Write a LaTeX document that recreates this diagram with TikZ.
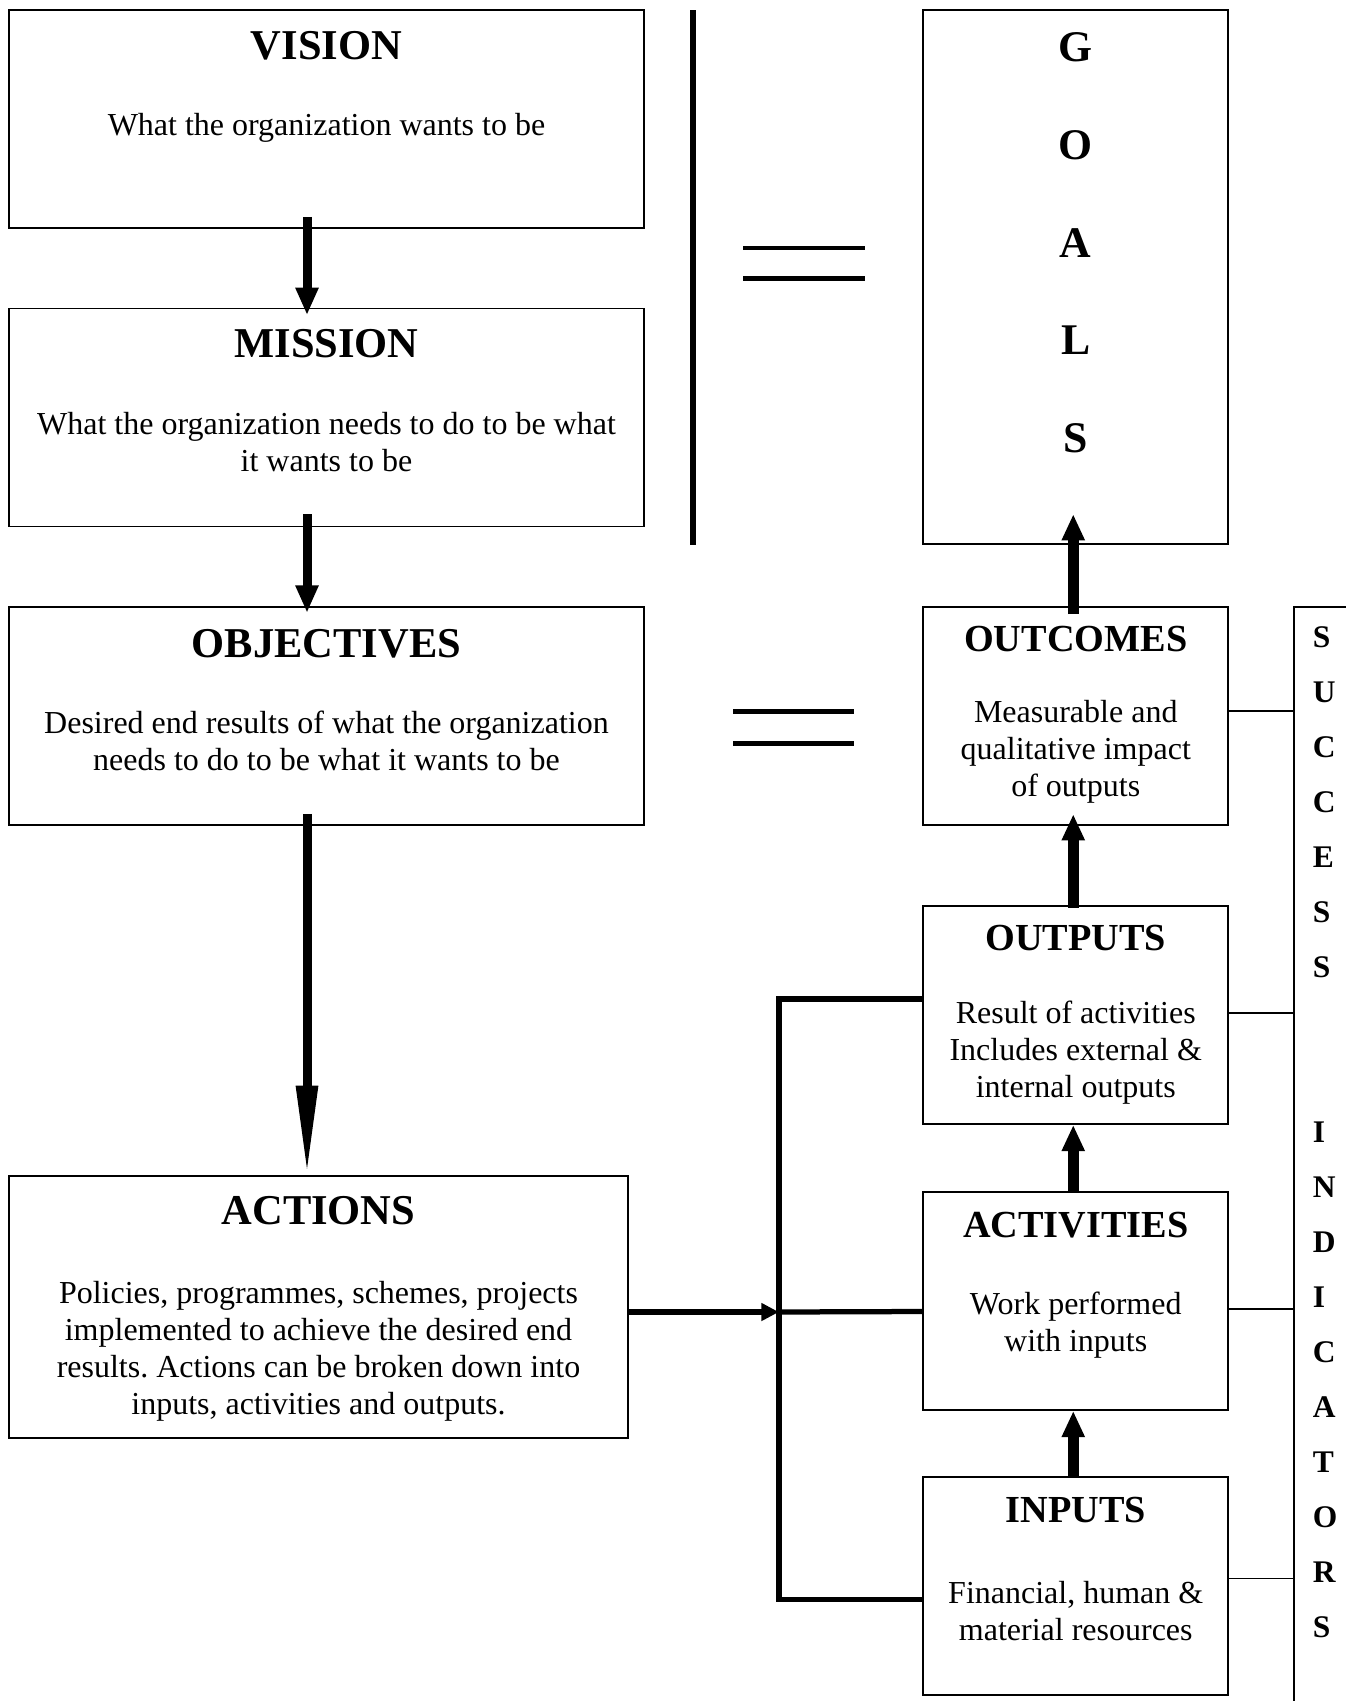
\documentclass[tikz,border=0pt]{standalone}
\usepackage{fontspec}
\setmainfont{Liberation Serif}
\usepackage{tikz}
\usetikzlibrary{arrows.meta,positioning}
\frenchspacing

\begin{document}
\begin{tikzpicture}[node distance=31.5pt,
    box/.style={draw, rectangle, line width=0.7pt, inner sep=0pt, minimum width=254pt, minimum height=87.2pt},
    sidebox/.style={box, minimum width=122pt},
    boxtitle/.style={inner sep=0pt, font=\fontsize{17}{20}\selectfont\bfseries},
    sidetitle/.style={boxtitle, font=\fontsize{15.3}{18}\selectfont\bfseries},
    boxtext/.style={inner sep=0pt, align=center, font=\fontsize{12.8}{14.8}\selectfont},
    downarrow/.style={line width=3.6pt, -{Triangle[length=11pt,width=8.6pt]}},
    uparrow/.style={line width=4.3pt, -{Triangle[length=10.5pt,width=8.6pt]}},
    feedline/.style={line width=2.1pt},
    tieline/.style={line width=0.5pt}]
    \useasboundingbox (0pt,0pt) rectangle (538.4pt,-680.4pt);

    % Left column
    \node [box] (vision) at (130.6pt,-47.6pt) {};
    \node [box, below=of vision] (mission) {};
    \node [box, below=of mission] (objectives) {};
    \node [box, minimum width=247.6pt, minimum height=104.8pt, below right=139.7pt and 0pt of objectives.south west] (actions) {};

    % Right column
    \node [sidebox, right=111pt of objectives] (outcomes) {};
    \node [sidebox, minimum height=213.6pt, above=24.5pt of outcomes] (goals) {};
    \node [sidebox, below=31.7pt of outcomes] (outputs) {};
    \node [sidebox, below=26.5pt of outputs] (activities) {};
    \node [sidebox, below=26.1pt of activities] (inputs) {};
    \node [draw, line width=0.8pt, inner sep=0pt, minimum width=60pt, minimum height=480pt, below right=0pt and 25.7pt of outcomes.north east] (indicators) {};

    % Box texts
    \node [boxtitle] (visiontitle) at ([yshift=-14.7pt]vision.north) {VISION};
    \node [boxtext] (visiontext) at ([yshift=-47.6pt]vision.north) {What the organization wants to be};
    \node [boxtitle] (missiontitle) at ([yshift=-14.4pt]mission.north) {MISSION};
    \node [boxtext] (missiontext) at ([yshift=-53.6pt]mission.north) {What the organization needs to do to be what\\it wants to be};
    \node [boxtitle] (objectivestitle) at ([yshift=-15pt]objectives.north) {OBJECTIVES};
    \node [boxtext] (objectivestext) at ([yshift=-53.8pt]objectives.north) {Desired end results of what the organization\\needs to do to be what it wants to be};
    \node [boxtitle] (actionstitle) at ([yshift=-14.2pt]actions.north) {ACTIONS};
    \node [boxtext] (actionstext) at ([yshift=-70.5pt]actions.north) {Policies, programmes, schemes, projects\\implemented to achieve the desired end\\results. Actions can be broken down into\\inputs, activities and outputs.};
    \node [sidetitle] (outcomestitle) at ([yshift=-13.2pt]outcomes.north) {OUTCOMES};
    \node [boxtext] (outcomestext) at ([yshift=-58.2pt]outcomes.north) {Measurable and\\qualitative impact\\of outputs};
    \node [sidetitle] (outputstitle) at ([yshift=-13.3pt]outputs.north) {OUTPUTS};
    \node [boxtext] (outputstext) at ([yshift=-58.9pt]outputs.north) {Result of activities\\Includes external \&\\internal outputs};
    \node [sidetitle] (activitiestitle) at ([yshift=-13.4pt]activities.north) {ACTIVITIES};
    \node [boxtext] (activitiestext) at ([yshift=-53.6pt]activities.north) {Work performed\\with inputs};
    \node [sidetitle] (inputstitle) at ([yshift=-13.4pt]inputs.north) {INPUTS};
    \node [boxtext] (inputstext) at ([yshift=-53.8pt]inputs.north) {Financial, human \&\\material resources};

    % Lettering down the goals and indicators boxes
    \node [inner sep=0pt, align=center, font=\fontsize{17.5}{39.1}\selectfont\bfseries] (goalsletters) at ([yshift=-93.5pt]goals.north) {G\\O\\A\\L\\S};
    \node [inner sep=0pt, align=left, anchor=west, font=\fontsize{12.6}{22}\selectfont\bfseries] (indletters) at ([xshift=7.6pt,yshift=-210.4pt]indicators.north west) {S\\U\\C\\C\\E\\S\\S\\[44pt]I\\N\\D\\I\\C\\A\\T\\O\\R\\S};

    % Main flow
    \draw [downarrow] ([xshift=-7.8pt,yshift=4.8pt]vision.south) -- ([xshift=-7.8pt,yshift=-3pt]mission.north);
    \draw [downarrow] ([xshift=-7.8pt,yshift=5.2pt]mission.south) -- ([xshift=-7.8pt,yshift=-2.7pt]objectives.north);
    \draw [downarrow, -{Triangle[length=36.6pt,width=8pt]}] ([xshift=-7.8pt,yshift=4.8pt]objectives.south) -- ([xshift=-4.6pt,yshift=-0.8pt]actions.north);
    \draw [uparrow] ([xshift=-1pt,yshift=-3.2pt]outcomes.north) -- ([xshift=-1pt,yshift=12.3pt]goals.south);
    \draw [uparrow] ([xshift=-1pt,yshift=-1pt]outputs.north) -- ([xshift=-1pt,yshift=4.7pt]outcomes.south);
    \draw [uparrow] ([xshift=-1pt]activities.north) -- ([xshift=-1pt]outputs.south);
    \draw [uparrow] ([xshift=-1pt]inputs.north) -- ([xshift=-1pt]activities.south);

    % Actions split into inputs, activities and outputs
    \coordinate (junc) at ([xshift=60pt,yshift=-2pt]actions.east);
    \draw [feedline, -{Triangle[length=7pt,width=6.8pt]}] ([yshift=-2pt]actions.east) -- (junc);
    \draw [feedline] (junc) -- ([yshift=-4.2pt]activities.west);
    \draw [feedline] ([yshift=6.4pt]outputs.west) -- ([yshift=6.4pt]outputs.west -| junc) -- ([yshift=-5.4pt]inputs.west -| junc) -- ([yshift=-5.4pt]inputs.west);

    % Links to success indicators
    \draw [tieline] ([yshift=2pt]outcomes.east) -- ([yshift=2pt]outcomes.east -| indicators.west);
    \draw [tieline] ([yshift=0.8pt]outputs.east) -- ([yshift=0.8pt]outputs.east -| indicators.west);
    \draw [tieline] ([yshift=-3.2pt]activities.east) -- ([yshift=-3.2pt]activities.east -| indicators.west);
    \draw [tieline] ([yshift=3pt]inputs.east) -- ([yshift=3pt]inputs.east -| indicators.west);

    % Bar and equals signs
    \draw [line width=2.4pt] (277.2pt,-4pt) -- (277.2pt,-218pt);
    \foreach \y in {99.2,111.4}
        \draw [line width=1.9pt] (297.2pt,-\y pt) -- (346pt,-\y pt);
    \foreach \y in {284.6,297.4}
        \draw [line width=1.8pt] (293.2pt,-\y pt) -- (341.6pt,-\y pt);
\end{tikzpicture}
\end{document}
